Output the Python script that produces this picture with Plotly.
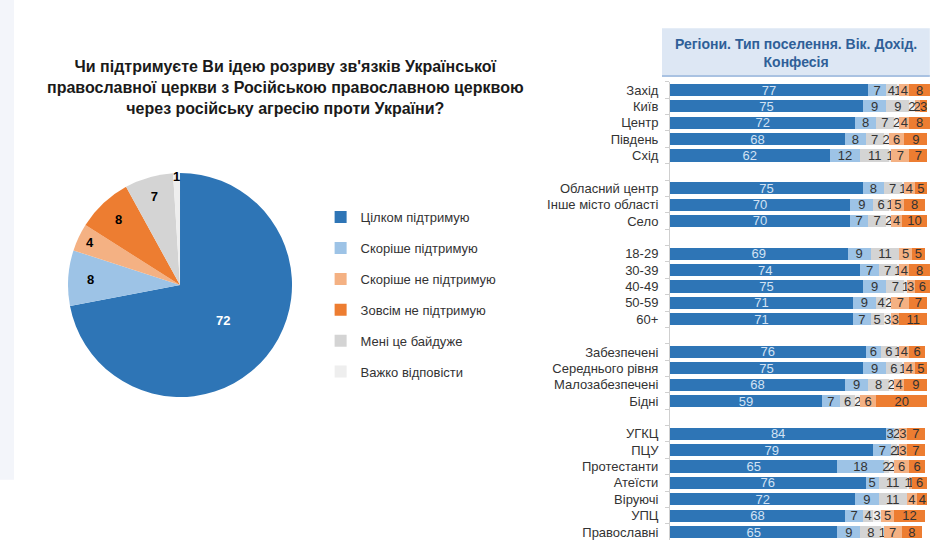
import plotly.graph_objects as go

# ---------- data ----------
title_lines = ["Чи підтримуєте Ви ідею розриву зв'язків Української",
               "православної церкви з Російською православною церквою",
               "через російську агресію проти України?"]

answers = ["Цілком підтримую", "Скоріше підтримую", "Скоріше не підтримую",
           "Зовсім не підтримую", "Мені це байдуже", "Важко відповісти"]
pie_values = [72, 8, 4, 8, 7, 1]

categories = ["Захід", "Київ", "Центр", "Південь", "Схід", " ",
              "Обласний центр", "Інше місто області", "Село", "  ",
              "18-29", "30-39", "40-49", "50-59", "60+", "   ",
              "Забезпечені", "Середнього рівня", "Малозабезпечені", "Бідні", "    ",
              "УГКЦ", "ПЦУ", "Протестанти", "Атеїсти", "Віруючі", "УПЦ", "Православні"]

full_support   = [77, 75, 72, 68, 62, None, 75, 70, 70, None, 69, 74, 75, 71, 71, None, 76, 75, 68, 59, None, 84, 79, 65, 76, 72, 68, 65]
rather_support = [7, 9, 8, 8, 12, None, 8, 9, 7, None, 9, 7, 9, 9, 7, None, 6, 9, 9, 7, None, 3, 7, 18, 5, 9, 7, 9]
indifferent    = [4, 9, 7, 7, 11, None, 7, 6, 7, None, 11, 7, 7, 4, 5, None, 6, 6, 8, 6, None, 2, 2, 2, 11, 11, 4, 8]
hard_to_say    = [1, 2, 2, 2, 1, None, 1, 1, 2, None, 0, 1, 1, 2, 3, None, 1, 1, 2, 2, None, 0, 1, 2, 1, 0, 3, 1]
rather_not     = [4, 2, 4, 6, 7, None, 4, 5, 4, None, 5, 4, 3, 7, 3, None, 4, 4, 4, 6, None, 3, 3, 6, 1, 4, 5, 7]
not_at_all     = [8, 3, 8, 9, 7, None, 5, 8, 10, None, 5, 8, 6, 7, 11, None, 6, 5, 9, 20, None, 7, 7, 6, 6, 4, 12, 8]

header_text = "Регіони. Тип поселення. Вік. Дохід.<br>Конфесія"

# ---------- style ----------
colors = {
    "Цілком підтримую": "#2e75b6",
    "Скоріше підтримую": "#9dc3e6",
    "Скоріше не підтримую": "#f4b183",
    "Зовсім не підтримую": "#ed7d31",
    "Мені це байдуже": "#d4d4d4",
    "Важко відповісти": "#eeeeee",
}
SANS = "Liberation Sans, Arial, sans-serif"

fig = go.Figure()

# pie
fig.add_trace(go.Pie(
    labels=answers, values=pie_values, sort=False, direction="clockwise", rotation=0,
    marker=dict(colors=[colors[a] for a in answers], line=dict(color="white", width=0)),
    texttemplate="%{value}", textposition="inside", insidetextorientation="horizontal",
    textfont=dict(family=SANS, size=13, color=["white", "black", "black", "black", "black", "black"],
                  weight="bold"),
    domain=dict(x=[0.0721, 0.3097], y=[0.2675, 0.6808]),
    showlegend=False, hoverinfo="label+value",
))

stack = [("Цілком підтримую", full_support, "#d2e2f4", 1),
         ("Скоріше підтримую", rather_support, "#333333", 2),
         ("Мені це байдуже", indifferent, "#333333", 5),
         ("Важко відповісти", hard_to_say, "#333333", 6),
         ("Скоріше не підтримую", rather_not, "#333333", 3),
         ("Зовсім не підтримую", not_at_all, "#333333", 4)]

for name, vals, tcol, rank in stack:
    txt = ["" if (v is None or v == 0) else str(v) for v in vals]
    fig.add_trace(go.Bar(
        y=categories, x=vals, orientation="h", name=name,
        marker=dict(color=colors[name], line=dict(width=0)),
        text=txt, textposition="inside", insidetextanchor="middle", textangle=0,
        textfont=dict(family=SANS, size=13, color=tcol),
        legendgroup=name, legendrank=rank, showlegend=True,
        xaxis="x", yaxis="y",
    ))

fig.update_layout(
    width=943, height=542,
    margin=dict(l=0, r=0, t=0, b=0),
    paper_bgcolor="white", plot_bgcolor="white",
    barmode="stack", bargap=0.26,
    uniformtext=dict(minsize=13, mode="show"),
    font=dict(family=SANS, color="#333333"),
    xaxis=dict(domain=[0.7105, 0.9862], range=[0, 101], visible=False, fixedrange=True),
    yaxis=dict(domain=[0.0033, 0.849], categoryorder="array", categoryarray=categories,
               tickmode="array", tickvals=categories, ticktext=categories,
               range=[27.5, -0.5], showline=True, linecolor="#cfcfcf", linewidth=1,
               ticks="outside", tickson="boundaries", ticklen=4, tickcolor="#cfcfcf",
               tickfont=dict(family=SANS, size=13, color="#333333"),
               showgrid=False, zeroline=False, ticklabelstandoff=8),
    legend=dict(x=0.34, y=0.627, xanchor="left", yanchor="top",
                font=dict(family=SANS, size=13, color="#333333"),
                traceorder="grouped", tracegroupgap=11, itemwidth=30,
                bgcolor="rgba(0,0,0,0)"),
    showlegend=True,
)

# faint left strip of the slide
fig.add_shape(type="rect", xref="paper", yref="paper", x0=0, x1=0.0148, y0=0.115, y1=1,
              fillcolor="#f3f5fa", line=dict(width=0), layer="below")

# header box
fig.add_shape(type="rect", xref="paper", yref="paper", x0=0.702, x1=0.986, y0=0.860, y1=0.948,
              fillcolor="#dde7f4", line=dict(width=0), layer="below")
fig.add_shape(type="line", xref="paper", yref="paper", x0=0.702, x1=0.986, y0=0.860, y1=0.860,
              line=dict(color="#a9c2e2", width=2))
fig.add_annotation(xref="paper", yref="paper", x=0.844, y=0.903, text="<b>" + header_text + "</b>",
                   showarrow=False, font=dict(family=SANS, size=14, color="#2f5f98"),
                   align="center", xanchor="center", yanchor="middle")

# title
fig.add_annotation(xref="paper", yref="paper", x=0.303, y=0.838,
                   text="<b>" + "<br>".join(title_lines) + "</b>",
                   showarrow=False, font=dict(family=SANS, size=16, color="#1a1a1a"),
                   align="center", xanchor="center", yanchor="middle")

fig.write_html("out.html")
